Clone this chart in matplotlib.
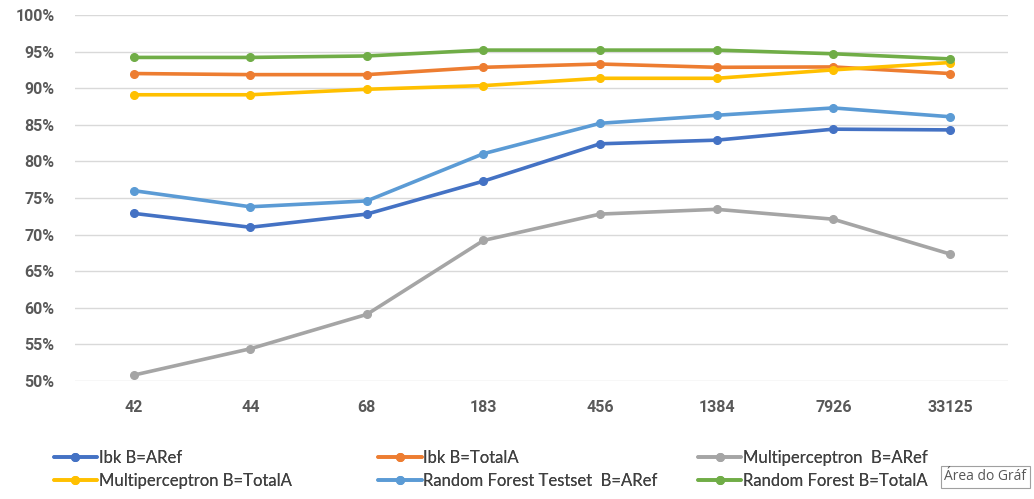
import matplotlib.pyplot as plt

plt.rcParams.update({
    'font.family': ['Lato', 'DejaVu Sans'],
})

categories = ['42', '44', '68', '183', '456', '1384', '7926', '33125']
y_ticks = [50, 55, 60, 65, 70, 75, 80, 85, 90, 95, 100]
y_labels = ['50%', '55%', '60%', '65%', '70%', '75%', '80%', '85%', '90%', '95%', '100%']

ibk_aref     = [72.9, 71.0, 72.8, 77.3, 82.4, 82.9, 84.4, 84.3]
ibk_total    = [92.0, 91.85, 91.85, 92.85, 93.3, 92.85, 92.9, 92.0]
mlp_aref     = [50.8, 54.4, 59.1, 69.2, 72.8, 73.45, 72.1, 67.35]
mlp_total    = [89.1, 89.1, 89.85, 90.35, 91.35, 91.35, 92.5, 93.5]
rf_test_aref = [76.0, 73.8, 74.6, 81.05, 85.2, 86.3, 87.3, 86.1]
rf_total     = [94.2, 94.2, 94.4, 95.2, 95.2, 95.2, 94.7, 94.0]

series = [
    ('Ibk B=ARef', ibk_aref, '#4472C4'),
    ('Ibk B=TotalA', ibk_total, '#ED7D31'),
    ('Multiperceptron  B=ARef', mlp_aref, '#A5A5A5'),
    ('Multiperceptron B=TotalA', mlp_total, '#FFC000'),
    ('Random Forest Testset  B=ARef', rf_test_aref, '#5B9BD5'),
    ('Random Forest B=TotalA', rf_total, '#70AD47'),
]

fig = plt.figure(figsize=(10.34, 4.99), dpi=100)
ax = fig.add_axes([0.0729, 0.2365, 0.9021, 0.7335])

x = list(range(len(categories)))
handles = []
for label, vals, color in series:
    ln, = ax.plot(x, vals, color=color, linewidth=2.6, marker='o',
                  markersize=5.5, solid_capstyle='round', label=label)
    handles.append(ln)

tick_font = dict(family=['Roboto', 'DejaVu Sans'], fontweight='bold',
                 fontsize=11.5, color='#595959')
ax.set_xlim(-0.5, len(categories) - 0.5)
ax.set_ylim(50, 100)
ax.set_yticks(y_ticks)
ax.set_yticklabels(y_labels, **tick_font)
ax.set_xticks(x)
ax.set_xticklabels(categories, **tick_font)
ax.grid(axis='y', color='#D9D9D9', linewidth=1.0)
ax.set_axisbelow(True)
for s in ax.spines.values():
    s.set_visible(False)
ax.tick_params(axis='both', length=0)
ax.tick_params(axis='y', pad=15)
ax.tick_params(axis='x', pad=14)

# legend: three columns, placed like the Excel legend
col_x = [0.052, 0.366, 0.675]
for c in range(3):
    hs = [handles[c], handles[c + 3]]
    leg = fig.legend(handles=hs, loc='upper left',
                     bbox_to_anchor=(col_x[c], 0.099), frameon=False,
                     fontsize=12, handlelength=2.6, handletextpad=0.1,
                     labelspacing=0.45, borderaxespad=0, borderpad=0)
    for t in leg.get_texts():
        t.set_color('#404040')
    fig.add_artist(leg)

# tooltip from the screenshot (cut at the window edge)
fig.text(0.913, 0.045, 'Área do Gráf', fontsize=10, color='#575757',
         family=['Open Sans', 'DejaVu Sans'], va='center', ha='left',
         bbox=dict(boxstyle='square,pad=0.25', facecolor='white',
                   edgecolor='#A0A0A0', linewidth=0.8))

fig.savefig('out.png', dpi=100, facecolor='white')
